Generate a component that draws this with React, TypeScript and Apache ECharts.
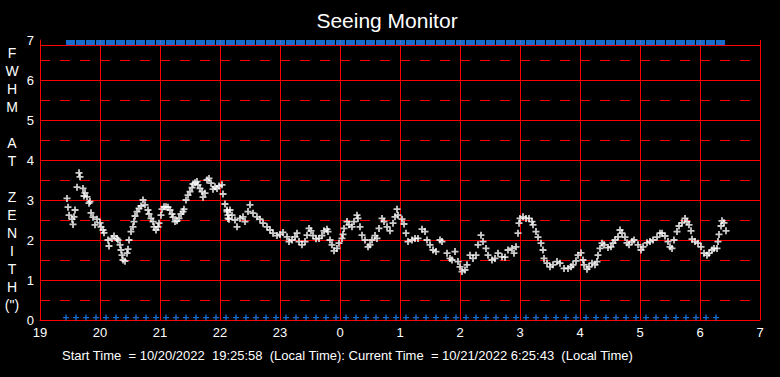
import React, { useEffect, useRef } from 'react';
import * as echarts from 'echarts';

const TITLE = 'Seeing Monitor';
const FOOTER = 'Start Time  = 10/20/2022  19:25:58  (Local Time): Current Time  = 10/21/2022 6:25:43  (Local Time)';
const Y_NAME_LINES = ['F', 'W', 'H', 'M', '', 'A', 'T', '', 'Z', 'E', 'N', 'I', 'T', 'H', '(")'];
const hourLabels = ['19', '20', '21', '22', '23', '0', '1', '2', '3', '4', '5', '6', '7'];
const START_HOUR = 19;
const END_HOUR = 31;
const Y_MAX = 7;
const FRAME_TOP = 6.875;
const STATUS_TOP = 6.9375;
const STATUS_BOTTOM = 0.06;

// [minutes after 19:00, FWHM arcsec]
const seeingEvening: [number, number][] = [
  [27, 3.04], [28, 2.82], [29, 2.62], [32, 2.52], [33, 2.39], [34, 2.58], [35, 2.75], [37, 3.32],
  [39, 3.68], [40, 3.58], [43, 3.29], [44, 3.1], [45, 3.18], [47, 3.08], [49, 2.92], [50, 2.96],
  [51, 2.68], [53, 2.57], [55, 2.38], [57, 2.52], [60, 2.43], [61, 2.33], [63, 2.25], [64, 2.18],
  [68, 2.0], [69, 1.85], [72, 2.04], [74, 2.1], [77, 2.04], [78, 2.0], [80, 1.88], [81, 1.75],
  [82, 1.62], [83, 1.5], [85, 1.47], [87, 1.67], [88, 1.77], [89, 2.0], [91, 2.21], [93, 2.33],
  [94, 2.46], [95, 2.6], [97, 2.71], [99, 2.79], [101, 2.85], [103, 3.0], [105, 2.88], [108, 2.75],
  [109, 2.65], [111, 2.54], [113, 2.46], [114, 2.33], [116, 2.25], [118, 2.33], [119, 2.42], [121, 2.62],
  [122, 2.77], [124, 2.83], [126, 2.83], [128, 2.82], [130, 2.75], [132, 2.65], [133, 2.57], [135, 2.46],
  [137, 2.48], [139, 2.54], [141, 2.65], [143, 2.71], [144, 2.77], [146, 3.0], [148, 3.12], [150, 3.21],
  [152, 3.31], [153, 3.4], [155, 3.43], [157, 3.46], [158, 3.38], [160, 3.29], [162, 3.21], [163, 3.07],
  [165, 3.17], [167, 3.5], [169, 3.54], [171, 3.42], [173, 3.27], [175, 3.33], [177, 3.29], [179, 3.35],
  [182, 3.38], [183, 3.15], [185, 2.9], [187, 2.71], [188, 2.62], [189, 2.52],
];

const seeingNight: [number, number][] = [
  [187, 2.75], [190, 2.75], [188, 2.54], [192, 2.62], [195, 2.5], [197, 2.33], [200, 2.54], [203, 2.58],
  [205, 2.46], [208, 2.71], [210, 2.88], [213, 2.67], [217, 2.58], [220, 2.52], [223, 2.42], [227, 2.33],
  [230, 2.25], [233, 2.17], [237, 2.11], [240, 2.14], [243, 2.19], [247, 2.08], [249, 1.96], [252, 2.0],
  [255, 2.08], [257, 2.17], [259, 1.96], [262, 1.88], [265, 1.96], [267, 2.12], [269, 2.29], [271, 2.23],
  [273, 2.11], [276, 2.03], [279, 2.04], [282, 2.11], [284, 2.23], [287, 2.27], [288, 2.21], [290, 2.0],
  [292, 1.88], [294, 1.73], [297, 1.79], [299, 1.92], [302, 2.04], [303, 2.14], [304, 2.29], [307, 2.46],
  [309, 2.38], [312, 2.33], [314, 2.46], [317, 2.62], [318, 2.54], [320, 2.33], [322, 2.12], [325, 2.0],
  [328, 1.83], [330, 1.88], [332, 2.0], [335, 2.11], [337, 2.04], [339, 2.29], [342, 2.54], [344, 2.46],
  [347, 2.33], [350, 2.23], [353, 2.42], [355, 2.58], [357, 2.77], [358, 2.62], [362, 2.52], [364, 2.4],
  [366, 2.17], [368, 1.96], [372, 2.0], [375, 2.04], [378, 2.04], [382, 2.27], [385, 2.21], [387, 2.0],
  [390, 1.88], [393, 1.75], [396, 1.71], [400, 2.0], [402, 1.96], [407, 1.67], [410, 1.54], [412, 1.5],
  [415, 1.71], [418, 1.46], [420, 1.33], [422, 1.21], [425, 1.25], [427, 1.38], [430, 1.62], [433, 1.54],
  [436, 1.62], [438, 1.88], [441, 2.12], [443, 1.96], [446, 1.79], [448, 1.62], [452, 1.5], [455, 1.54],
  [458, 1.67], [462, 1.58], [465, 1.57], [468, 1.75], [472, 1.79], [474, 1.67], [476, 1.83],
];

const seeingMorning: [number, number][] = [
  [478, 2.17], [479, 2.42], [480, 2.54], [483, 2.58], [486, 2.54], [489, 2.54], [492, 2.46], [493, 2.38],
  [496, 2.21], [498, 2.07], [501, 1.92], [503, 1.75], [504, 1.54], [507, 1.42], [510, 1.33], [513, 1.38],
  [517, 1.46], [520, 1.42], [524, 1.29], [528, 1.29], [531, 1.33], [533, 1.38], [536, 1.48], [538, 1.62],
  [541, 1.68], [543, 1.5], [544, 1.38], [547, 1.27], [549, 1.33], [552, 1.42], [555, 1.38], [557, 1.46],
  [558, 1.62], [560, 1.79], [562, 1.92], [564, 1.88], [568, 1.81], [571, 1.83], [573, 1.92], [575, 2.0],
  [578, 2.08], [580, 2.25], [582, 2.17], [585, 2.07], [587, 1.93], [589, 1.88], [592, 1.96], [594, 2.0],
  [598, 1.88], [601, 1.75], [603, 1.83], [607, 1.93], [610, 1.96], [613, 2.0], [617, 2.07], [620, 2.17],
  [622, 2.17], [625, 2.1], [628, 1.96], [630, 1.83], [632, 1.79], [634, 2.0], [637, 2.21], [639, 2.35],
  [642, 2.43], [645, 2.54], [647, 2.46], [649, 2.38], [651, 2.23], [652, 2.02], [655, 1.96], [658, 1.92],
  [661, 1.83], [664, 1.67], [667, 1.62], [669, 1.67], [672, 1.75], [674, 1.79], [677, 1.79], [678, 1.96],
  [679, 2.14], [681, 2.35], [682, 2.48], [684, 2.43], [686, 2.23],
];

// status marker times, minutes after 19:00
const statusMinutes = [
  26, 36, 46, 56, 66, 76, 86, 96, 106, 116, 126, 136, 146, 156, 166, 176, 186, 196, 206, 216, 226, 236,
  246, 256, 266, 276, 286, 296, 306, 316, 326, 336, 346, 356, 366, 376, 386, 396, 406, 416, 426, 436,
  446, 456, 466, 476, 486, 496, 506, 516, 526, 536, 546, 556, 566, 576, 586, 596, 606, 616, 626, 636,
  646, 656, 666, 676,
];

const FONT = "'Liberation Sans', Arial, sans-serif";
const RED = '#ff0000';
const BLUE = '#1e88ff';
const PLUS = 'path://M5.2,0h3.6v5.2h5.2v3.6h-5.2v5.2h-3.6v-5.2h-5.2v-3.6h5.2z';
const PLUS_THIN = 'path://M4.6,0h2.8v4.6h4.6v2.8h-4.6v4.6h-2.8v-4.6h-4.6v-2.8h4.6z';

const toHour = (m: number) => START_HOUR + m / 60;

export default function App() {
  const ref = useRef<HTMLDivElement>(null);
  useEffect(() => {
    if (!ref.current) return;
    const chart = echarts.init(ref.current, undefined, { renderer: 'svg' });
    const seeing = [...seeingEvening, ...seeingNight, ...seeingMorning].map(([m, v]) => [toHour(m), v]);
    chart.setOption({
      animation: false,
      backgroundColor: '#000000',
      grid: { left: 40, top: 40, width: 720, height: 280, containLabel: false },
      xAxis: {
        type: 'value',
        min: START_HOUR,
        max: END_HOUR,
        interval: 1,
        axisLine: { show: true, onZero: false, lineStyle: { color: RED, width: 1 } },
        axisTick: { show: false },
        axisLabel: {
          color: '#ffffff',
          fontSize: 13,
          fontFamily: FONT,
          margin: 6,
          formatter: (v: number) => hourLabels[Math.round(v) - START_HOUR] ?? '',
        },
        splitLine: { show: true, lineStyle: { color: RED, width: 1 } },
      },
      yAxis: {
        type: 'value',
        min: 0,
        max: Y_MAX,
        interval: 1,
        axisLine: { show: true, lineStyle: { color: RED, width: 1 } },
        axisTick: { show: false },
        minorTick: { show: false, splitNumber: 2 },
        axisLabel: { color: '#ffffff', fontSize: 13, fontFamily: FONT, margin: 6 },
        splitLine: { show: true, showMaxLine: false, lineStyle: { color: RED, width: 1 } },
        minorSplitLine: { show: true, lineStyle: { color: RED, width: 1, type: [10, 10] } },
      },
      graphic: [
        {
          type: 'text',
          x: 387,
          y: 20,
          style: {
            text: TITLE,
            fill: '#ffffff',
            font: `21px ${FONT}`,
            textAlign: 'center',
            align: 'center',
            textVerticalAlign: 'middle',
            verticalAlign: 'middle',
          },
        },
        {
          type: 'text',
          x: 12,
          y: 44,
          style: {
            text: Y_NAME_LINES.join('\n'),
            fill: '#ffffff',
            font: `14px ${FONT}`,
            textAlign: 'center',
            align: 'center',
            textVerticalAlign: 'top',
            verticalAlign: 'top',
            lineHeight: 18,
          },
        },
        {
          type: 'text',
          x: 62,
          y: 355,
          style: {
            text: FOOTER,
            fill: '#ffffff',
            font: `13px ${FONT}`,
            textAlign: 'left',
            align: 'left',
            textVerticalAlign: 'middle',
            verticalAlign: 'middle',
          },
        },
      ],
      series: [
        {
          type: 'scatter',
          name: 'FWHM',
          data: seeing,
          symbol: PLUS,
          symbolSize: 7,
          itemStyle: { color: '#ffffff' },
          silent: true,
          markLine: {
            silent: true,
            symbol: 'none',
            label: { show: false },
            lineStyle: { color: RED, width: 1, type: 'solid' },
            data: [{ yAxis: FRAME_TOP }],
          },
        },
        {
          type: 'scatter',
          name: 'status top',
          data: statusMinutes.map((m) => [toHour(m), STATUS_TOP]),
          symbol: 'rect',
          symbolSize: [9, 5],
          symbolOffset: [4.5, 0],
          itemStyle: { color: BLUE },
          silent: true,
          clip: false,
        },
        {
          type: 'scatter',
          name: 'status bottom',
          data: statusMinutes.map((m) => [toHour(m), STATUS_BOTTOM]),
          symbol: PLUS_THIN,
          symbolSize: 6,
          itemStyle: { color: BLUE },
          silent: true,
          clip: false,
        },
      ],
    });
    return () => chart.dispose();
  }, []);
  return (
    <div
      ref={ref}
      style={{ position: 'fixed', left: 0, top: 0, width: 780, height: 377, background: '#000' }}
    />
  );
}
